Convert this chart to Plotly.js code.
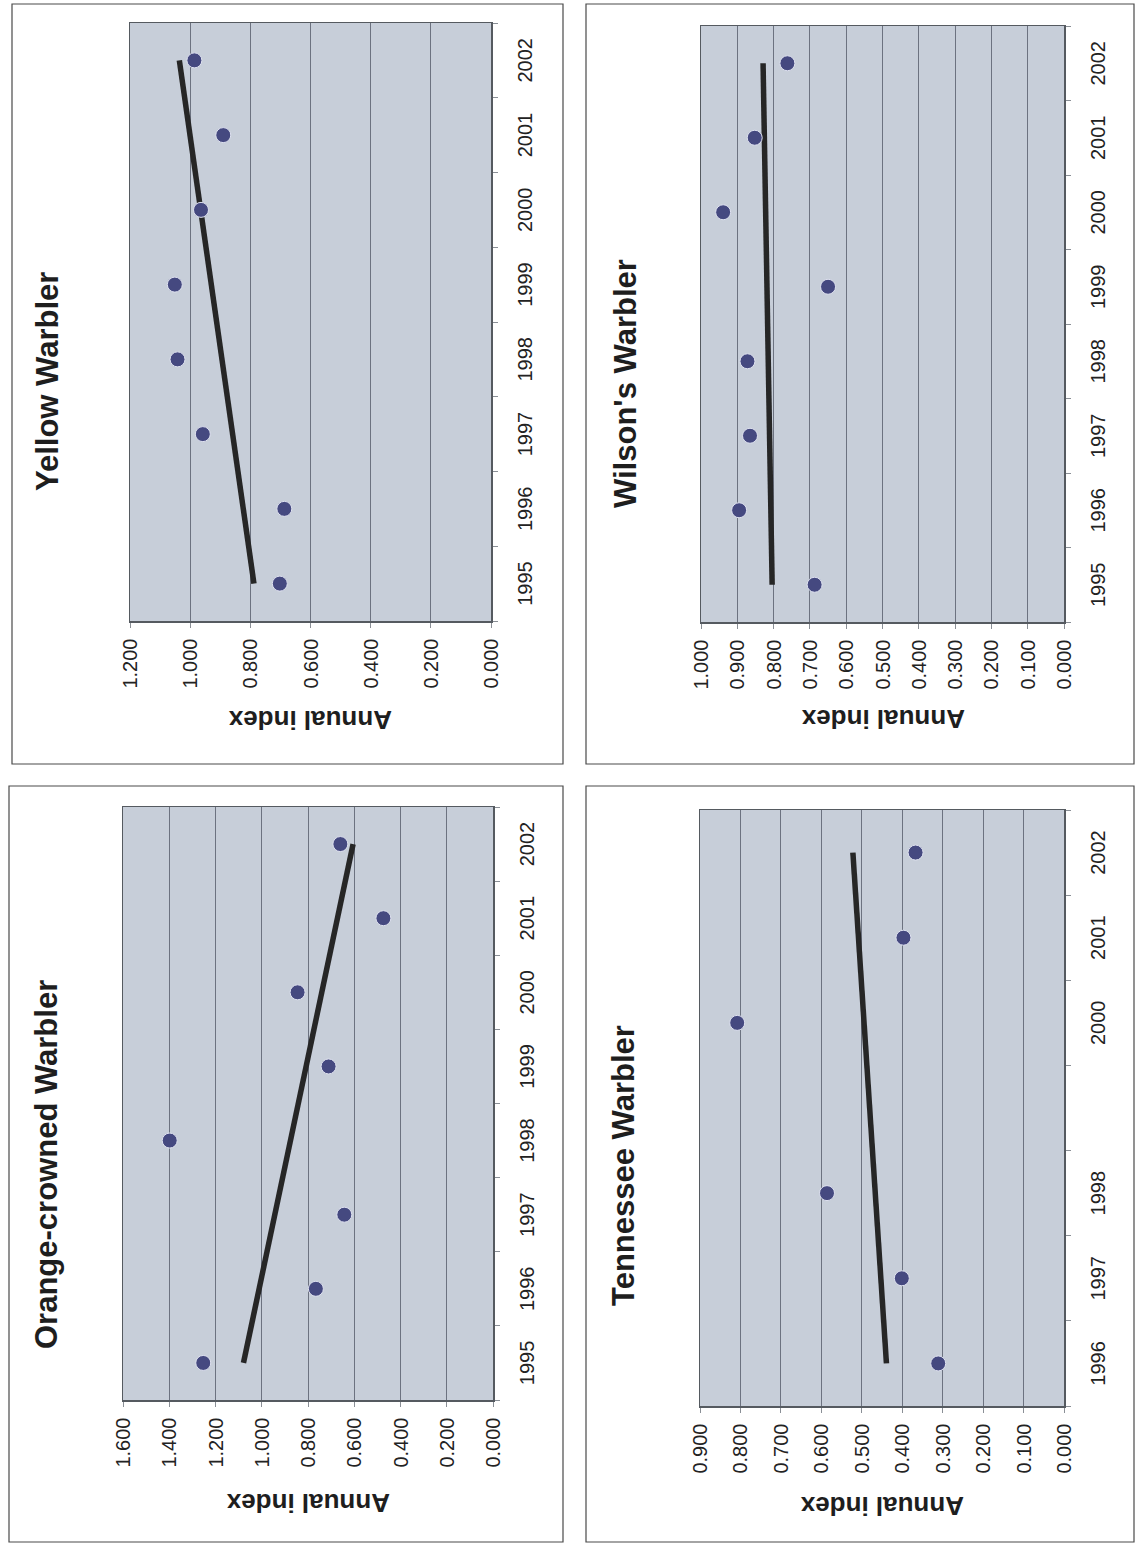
<!DOCTYPE html>
<html>
<head>
<meta charset="utf-8">
<script src="https://cdn.plot.ly/plotly-3.0.1.min.js"></script>
<style>
  html, body { margin: 0; padding: 0; background: #ffffff; overflow: hidden; }
  #rot {
    position: absolute; left: 0; top: 0;
    width: 1547px; height: 1139px;
    transform-origin: 0 0;
    transform: translateY(1547px) rotate(-90deg);
  }
</style>
</head>
<body>
<div id="rot"><div id="chart"></div></div>
<script>
// ---------------- DATA ----------------
const yellowYears   = [1995, 1996, 1997, 1998, 1999, 2000, 2001, 2002];
const yellowIndex   = [0.702, 0.687, 0.958, 1.042, 1.051, 0.964, 0.890, 0.986];
const yellowTrendYears = [1995, 2002];
const yellowTrend   = [0.788, 1.036];

const orangeYears   = [1995, 1996, 1997, 1998, 1999, 2000, 2001, 2002];
const orangeIndex   = [1.253, 0.766, 0.643, 1.398, 0.711, 0.845, 0.474, 0.660];
const orangeTrendYears = [1995, 2002];
const orangeTrend   = [1.079, 0.605];

const wilsonYears   = [1995, 1996, 1997, 1998, 1999, 2000, 2001, 2002];
const wilsonIndex   = [0.687, 0.895, 0.865, 0.872, 0.650, 0.939, 0.852, 0.762];
const wilsonTrendYears = [1995, 2002];
const wilsonTrend   = [0.804, 0.829];

const tennYears     = [1996, 1997, 1998, 2000, 2001, 2002];
const tennIndex     = [0.311, 0.401, 0.586, 0.808, 0.397, 0.367];
const tennTrendYears = [1996, 2002];
const tennTrend     = [0.439, 0.522];

// tick labels shown on the year axes
const yellowYearLabels = ["1995","1996","1997","1998","1999","2000","2001","2002"];
const orangeYearLabels = ["1995","1996","1997","1998","1999","2000","2001","2002"];
const wilsonYearLabels = ["1995","1996","1997","1998","1999","2000","2001","2002"];
const tennYearLabels   = ["1996","1997","1998","2000","2001","2002"];

const titles = ["Yellow Warbler", "Orange-crowned Warbler", "Wilson's Warbler", "Tennessee Warbler"];
const axisTitle = "Annual index";
const valueMax  = [1.2, 1.6, 1.0, 0.9];
const valueStep = [0.2, 0.2, 0.1, 0.1];

// ---------------- LAYOUT GEOMETRY (unrotated page, px) ----------------
const W = 1547, H = 1139;
const FONT = 'Arial, "Liberation Sans", sans-serif';

// plot areas: [u0, u1, v0, v1]  (u = horizontal, v = from top)
const plotBoxes = [
  [926, 1524, 130, 491],   // Yellow
  [147, 740, 123, 493],    // Orange-crowned
  [925, 1521, 701, 1064],  // Wilson's
  [141, 737, 700, 1064]    // Tennessee
];
// panel frames
const panelBoxes = [
  [783, 1543, 12, 563],
  [5, 761, 9, 563],
  [783, 1543, 586, 1134],
  [5, 761, 586, 1134]
];
const titlePos = [[1165, 48], [382, 46], [1163, 625], [381, 623]];
const axisTitlePos = [[827, 310], [44, 308], [828, 883], [41, 882]];

const series = [
  {years: yellowYears, vals: yellowIndex, ty: yellowTrendYears, tv: yellowTrend, labels: yellowYearLabels, first: 1995, last: 2002},
  {years: orangeYears, vals: orangeIndex, ty: orangeTrendYears, tv: orangeTrend, labels: orangeYearLabels, first: 1995, last: 2002},
  {years: wilsonYears, vals: wilsonIndex, ty: wilsonTrendYears, tv: wilsonTrend, labels: wilsonYearLabels, first: 1995, last: 2002},
  {years: tennYears,   vals: tennIndex,   ty: tennTrendYears,   tv: tennTrend,   labels: tennYearLabels,   first: 1996, last: 2002}
];

const px = u => u / W;
const py = v => 1 - v / H;

const traces = [];
const layout = {
  width: W, height: H,
  margin: {l: 0, r: 0, t: 0, b: 0},
  autosize: false,
  showlegend: false,
  paper_bgcolor: '#ffffff',
  plot_bgcolor: '#c7ced9',
  shapes: [],
  annotations: []
};

series.forEach((s, i) => {
  const n = i === 0 ? '' : String(i + 1);
  const xa = 'x' + n, ya = 'y' + n;
  const box = plotBoxes[i];

  traces.push({
    type: 'scatter', mode: 'lines',
    x: s.ty, y: s.tv, xaxis: xa, yaxis: ya,
    line: {color: '#262626', width: 5.5},
    hoverinfo: 'skip'
  });
  traces.push({
    type: 'scatter', mode: 'markers',
    x: s.years, y: s.vals, xaxis: xa, yaxis: ya,
    marker: {color: '#454980', size: 15, line: {color: '#dfe2f0', width: 1}}
  });

  const bounds = [];
  for (let b = s.first - 0.5; b <= s.last + 0.5; b += 1) bounds.push(b);
  const labelYears = s.labels.map(Number);

  layout['xaxis' + n] = {
    domain: [px(box[0]), px(box[1])],
    anchor: ya,
    range: [s.first - 0.5, s.last + 0.5],
    tickmode: 'array', tickvals: labelYears, ticktext: s.labels,
    ticks: '', showgrid: false, zeroline: false,
    showline: true, mirror: true, linecolor: '#555a60', linewidth: 1.5,
    minor: {tickmode: 'array', tickvals: bounds, ticks: 'outside', ticklen: 5, tickcolor: '#8a8f96', tickwidth: 1, showgrid: false},
    tickfont: {family: FONT, size: 20, color: '#222222'},
    ticklabelstandoff: 15,
    fixedrange: true
  };
  layout['yaxis' + n] = {
    domain: [py(box[3]), py(box[2])],
    anchor: xa,
    range: [0, valueMax[i]],
    tickmode: 'linear', tick0: 0, dtick: valueStep[i],
    tickformat: '.3f',
    ticks: 'outside', ticklen: 5, tickcolor: '#8a8f96', tickwidth: 1,
    showgrid: true, gridcolor: '#6c7280', gridwidth: 1,
    zeroline: false,
    showline: true, mirror: true, linecolor: '#555a60', linewidth: 1.5,
    tickfont: {family: FONT, size: 20, color: '#222222'},
    ticklabelstandoff: 7,
    fixedrange: true
  };

  const pb = panelBoxes[i];
  layout.shapes.push({
    type: 'rect', xref: 'paper', yref: 'paper',
    x0: px(pb[0]), x1: px(pb[1]), y0: py(pb[3]), y1: py(pb[2]),
    line: {color: '#4a4a4a', width: 1.2}, fillcolor: 'rgba(0,0,0,0)', layer: 'below'
  });

  layout.annotations.push({
    xref: 'paper', yref: 'paper',
    x: px(titlePos[i][0]), y: py(titlePos[i][1]),
    xanchor: 'center', yanchor: 'middle', showarrow: false,
    text: '<b>' + titles[i] + '</b>',
    font: {family: FONT, size: 31, color: '#1e1e1e'}
  });
  layout.annotations.push({
    xref: 'paper', yref: 'paper',
    x: px(axisTitlePos[i][0]), y: py(axisTitlePos[i][1]),
    xanchor: 'center', yanchor: 'middle', showarrow: false,
    textangle: -90,
    text: '<b>' + axisTitle + '</b>',
    font: {family: FONT, size: 26, color: '#1e1e1e'}
  });
});

Plotly.newPlot('chart', traces, layout, {displayModeBar: false, staticPlot: true});
</script>
</body>
</html>
